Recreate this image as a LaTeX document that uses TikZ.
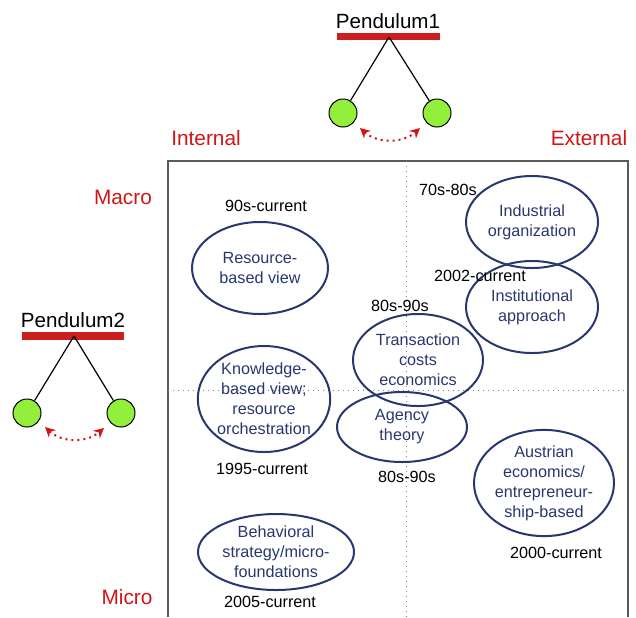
\documentclass[tikz,border=0pt]{standalone}
\usepackage{fontspec}
\setmainfont{Liberation Sans}
\usetikzlibrary{shapes.geometric,arrows.meta}

\definecolor{barred}{RGB}{204,30,30}
\definecolor{labred}{RGB}{210,20,20}
\definecolor{ballgreen}{RGB}{146,240,60}
\definecolor{navy}{RGB}{40,55,110}
\definecolor{boxgray}{RGB}{90,90,90}

\tikzset{
  theory/.style={draw=navy, line width=1pt, ellipse, inner sep=0pt, align=center,
    text=navy, font=\fontsize{8.1}{10}\selectfont},
  period/.style={font=\fontsize{8.1}{10}\selectfont},
  axislabel/.style={text=labred, font=\fontsize{10.4}{12}\selectfont},
  bob/.style={circle, draw, line width=0.5pt, fill=ballgreen, minimum size=14pt, inner sep=0pt},
  swing/.style={draw=labred, dotted, line width=1pt, {Stealth[length=5pt,width=5pt]}-{Stealth[length=5pt,width=5pt]}}
}

\begin{document}
\begin{tikzpicture}[x=0.5pt, y=-0.5pt]

    \useasboundingbox (0,0) rectangle (636,617);

    % Draw the frame and the dotted axes
    \draw[boxgray, line width=1pt] (168,617) -- (168,161) -- (628,161) -- (628,617);
    \draw[gray, dotted, line width=0.5pt] (406,161) -- (406,617);
    \draw[gray, dotted, line width=0.5pt] (168,390) -- (628,390);

    % Axis labels
    \node[axislabel] (internal) at (206,138) {Internal};
    \node[axislabel] (external) at (589,138) {External};
    \node[axislabel] (macro) at (123,197) {Macro};
    \node[axislabel] (micro) at (127,597) {Micro};

    % Pendulum 1
    \node[font=\fontsize{10.3}{12}\selectfont] (pend1) at (388,21) {Pendulum1};
    \fill[barred] (337,33) rectangle (440,40);
    \coordinate (piv1) at (389,37);
    \node[bob] (bobL1) at (343,113) {};
    \node[bob] (bobR1) at (437,113) {};
    \draw[line width=0.6pt] (piv1) -- (bobL1);
    \draw[line width=0.6pt] (piv1) -- (bobR1);
    \coordinate (sw1a) at (360,128);
    \coordinate (sw1b) at (420,128);
    \draw[swing] (sw1a) to[bend right=42] (sw1b);

    % Pendulum 2
    \node[font=\fontsize{10.3}{12}\selectfont] (pend2) at (73,320) {Pendulum2};
    \fill[barred] (22,332) rectangle (124,340);
    \coordinate (piv2) at (74,336);
    \node[bob] (bobL2) at (27,413) {};
    \node[bob] (bobR2) at (121,413) {};
    \draw[line width=0.6pt] (piv2) -- (bobL2);
    \draw[line width=0.6pt] (piv2) -- (bobR2);
    \coordinate (sw2a) at (45,427);
    \coordinate (sw2b) at (104,428);
    \draw[swing] (sw2a) to[bend right=42] (sw2b);

    % Theories
    \node[theory, minimum width=68pt, minimum height=46pt] (rbv) at (260,268) {Resource-\\based view};
    \node[theory, minimum width=66pt, minimum height=46pt] (io) at (532,222) {Industrial\\organization};
    \node[theory, minimum width=66pt, minimum height=46pt] (inst) at (532,307) {Institutional\\approach};
    \node[theory, minimum width=65pt, minimum height=46pt] (tce) at (418,360) {Transaction\\costs\\economics};
    \node[theory, minimum width=66pt, minimum height=53pt] (kbv) at (264,399) {Knowledge-\\based view;\\resource\\orchestration};
    \node[theory, minimum width=65pt, minimum height=35pt] (agency) at (402,427) {Agency\\theory};
    \node[theory, minimum width=70pt, minimum height=53pt] (austrian) at (544,483) {Austrian\\economics/\\entrepreneur-\\ship-based};
    \node[theory, minimum width=78pt, minimum height=38pt] (behav) at (276,552) {Behavioral\\strategy/micro-\\foundations};

    % Periods
    \node[period] (prbv) at (266,206) {90s-current};
    \node[period] (pio) at (448,190) {70s-80s};
    \node[period] (pinst) at (480,276) {2002-current};
    \node[period] (ptce) at (400,306) {80s-90s};
    \node[period] (pkbv) at (262,469) {1995-current};
    \node[period] (pagency) at (407,477) {80s-90s};
    \node[period] (paustrian) at (556,553) {2000-current};
    \node[period] (pbehav) at (270,602) {2005-current};

\end{tikzpicture}
\end{document}
